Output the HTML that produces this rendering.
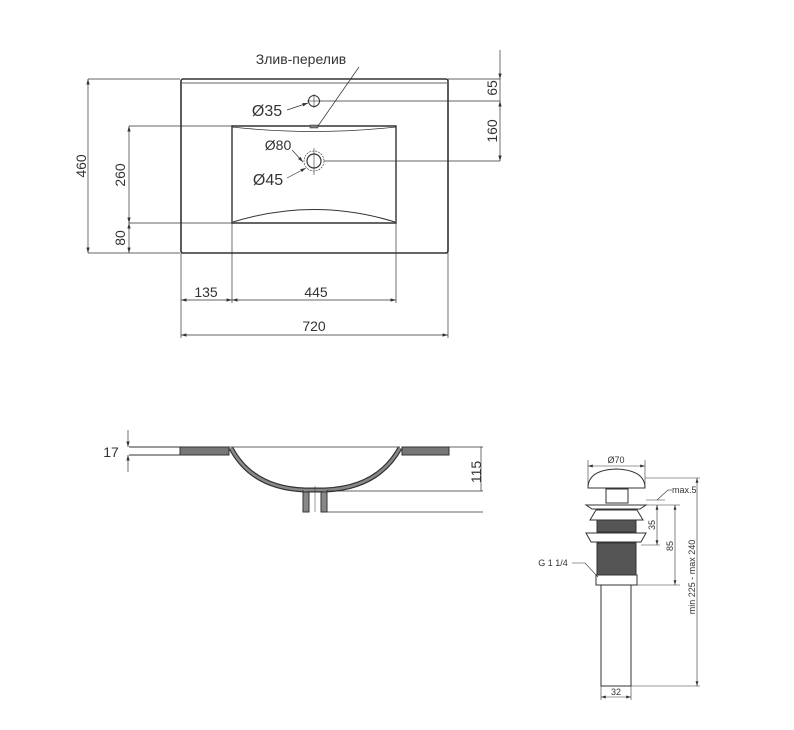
<!DOCTYPE html>
<html><head><meta charset="utf-8"><style>
html,body{margin:0;padding:0;background:#fff}
svg{display:block}
text{font-family:"Liberation Sans","DejaVu Sans",sans-serif;fill:#333}
</style></head><body>
<svg width="794" height="730" viewBox="0 0 794 730" xmlns="http://www.w3.org/2000/svg">
<defs>
<marker id="a" viewBox="0 0 10 6" refX="10" refY="3" markerWidth="8" markerHeight="5" orient="auto-start-reverse"><path d="M0,0L10,3L0,6z" fill="#333"/></marker>
</defs>
<g stroke="#333" fill="none">
<!-- top view -->
<rect x="181" y="79" width="267" height="174" rx="2" stroke-width="1.6"/>
<line x1="182" y1="83" x2="447" y2="83" stroke-width="0.7"/>
<path d="M232,126 L396,126 L396,223 L232,223 Z" stroke-width="1.4"/>
<path d="M232,127 Q314,136 396,127" stroke-width="0.8"/>
<path d="M233,222 Q314,197 395,222" stroke-width="1"/>
<circle cx="314" cy="101" r="5.5" stroke-width="1"/>
<line x1="314" y1="94" x2="314" y2="108" stroke-width="0.6"/>
<line x1="307" y1="101" x2="321" y2="101" stroke-width="0.6"/>
<circle cx="314" cy="161" r="7" stroke-width="1.2"/>
<circle cx="314" cy="161" r="10" stroke-width="0.6" stroke-dasharray="2,1"/>
<line x1="314" y1="148" x2="314" y2="175" stroke-width="0.6"/>
<rect x="310" y="125" width="8" height="3" fill="#777" stroke-width="0.5"/>
<g stroke-width="0.7">
<line x1="88" y1="79" x2="180" y2="79"/><line x1="88" y1="253" x2="180" y2="253"/>
<line x1="129" y1="126" x2="232" y2="126"/><line x1="129" y1="223" x2="232" y2="223"/>
<line x1="448" y1="79" x2="500" y2="79"/><line x1="319" y1="101" x2="500" y2="101"/><line x1="324" y1="161" x2="500" y2="161"/>
<line x1="181" y1="253" x2="181" y2="338"/><line x1="448" y1="253" x2="448" y2="338"/>
<line x1="232" y1="223" x2="232" y2="303"/><line x1="396" y1="223" x2="396" y2="303"/>
<line x1="359" y1="67" x2="318" y2="126"/>
<line x1="88" y1="79" x2="88" y2="253" marker-start="url(#a)" marker-end="url(#a)"/>
<line x1="129" y1="126" x2="129" y2="223" marker-start="url(#a)" marker-end="url(#a)"/>
<line x1="129" y1="223" x2="129" y2="253" marker-start="url(#a)" marker-end="url(#a)"/>
<line x1="500" y1="50" x2="500" y2="79" marker-end="url(#a)"/>
<line x1="500" y1="101" x2="500" y2="161" marker-start="url(#a)" marker-end="url(#a)"/>
<line x1="500" y1="79" x2="500" y2="101"/>
<line x1="181" y1="300" x2="232" y2="300" marker-start="url(#a)" marker-end="url(#a)"/>
<line x1="232" y1="300" x2="396" y2="300" marker-start="url(#a)" marker-end="url(#a)"/>
<line x1="181" y1="335" x2="448" y2="335" marker-start="url(#a)" marker-end="url(#a)"/>
<line x1="287" y1="110" x2="308" y2="103" marker-end="url(#a)"/>
<line x1="292" y1="150" x2="303" y2="162" marker-end="url(#a)"/>
<line x1="287" y1="178" x2="306" y2="168" marker-end="url(#a)"/>
</g>
<!-- side view -->
<path d="M129,447 L180,447 L180,455 L129,455" stroke-width="1"/>
<rect x="180" y="447" width="49" height="8" fill="#777" stroke-width="1"/>
<rect x="402" y="447" width="47" height="8" fill="#777" stroke-width="1"/>
<path d="M231,448 Q252,488 305,490 L325,490 Q378,488 400,448" stroke-width="5" stroke="#333"/>
<path d="M231,448 Q252,488 305,490 L325,490 Q378,488 400,448" stroke-width="2.6" stroke="#888"/>
<path d="M303,490 L303,512 L309,512 L309,492 M321,492 L321,512 L327,512 L327,490" fill="#888" stroke-width="1"/>
<rect x="303" y="492" width="6" height="20" fill="#888" stroke-width="1"/>
<rect x="321" y="492" width="6" height="20" fill="#888" stroke-width="1"/>
<line x1="315" y1="486" x2="315" y2="512" stroke-width="0.5"/>
<g stroke-width="0.7">
<line x1="229" y1="447" x2="400" y2="447"/>
<line x1="449" y1="447" x2="483" y2="447"/><line x1="327" y1="491" x2="483" y2="491"/><line x1="327" y1="512" x2="483" y2="512"/>
<line x1="481" y1="447" x2="481" y2="491"/>
<line x1="128" y1="430" x2="128" y2="447" marker-end="url(#a)"/>
<line x1="128" y1="472" x2="128" y2="455" marker-end="url(#a)"/>
</g>
<!-- drain -->
<g stroke-width="1">
<path d="M588,488 Q588,470 616,469 Q645,470 645,488 Z"/>
<rect x="606" y="489" width="22" height="14"/>
<path d="M586,505 L646,505 L640,509 L592,509 Z"/>
<path d="M590,520 L596,510 L637,510 L643,520 Z"/>
<rect x="597" y="520" width="39" height="12" fill="#555"/>
<path d="M586,533 L646,533 L641,542 L591,542 Z"/>
<rect x="597" y="543" width="39" height="32" fill="#555"/>
<rect x="596" y="575" width="41" height="10"/>
<rect x="601" y="585" width="30" height="101"/>
</g>
<g stroke-width="0.6">
<line x1="588" y1="466" x2="645" y2="466" marker-start="url(#a)" marker-end="url(#a)"/>
<line x1="588" y1="460" x2="588" y2="486"/><line x1="645" y1="460" x2="645" y2="486"/>
<line x1="645" y1="478" x2="700" y2="478"/>
<line x1="646" y1="505" x2="680" y2="505"/><line x1="646" y1="500" x2="665" y2="500"/>
<line x1="641" y1="545" x2="660" y2="545"/><line x1="637" y1="585" x2="680" y2="585"/>
<line x1="631" y1="686" x2="700" y2="686"/>
<line x1="657" y1="505" x2="657" y2="545" marker-start="url(#a)" marker-end="url(#a)"/>
<line x1="657" y1="500" x2="668" y2="490"/><line x1="668" y1="490" x2="672" y2="490"/>
<line x1="675" y1="505" x2="675" y2="585" marker-start="url(#a)" marker-end="url(#a)"/>
<line x1="697" y1="478" x2="697" y2="686" marker-start="url(#a)" marker-end="url(#a)"/>
<line x1="601" y1="686" x2="601" y2="700"/><line x1="631" y1="686" x2="631" y2="700"/>
<line x1="601" y1="697" x2="631" y2="697" marker-start="url(#a)" marker-end="url(#a)"/>
<path d="M572,563 L585,563 L598,577"/>
</g>
</g>
<g>
<text x="301" y="64" font-size="14" text-anchor="middle">Злив-перелив</text>
<text x="267" y="116" font-size="16" text-anchor="middle">Ø35</text>
<text x="278" y="150" font-size="14" text-anchor="middle">Ø80</text>
<text x="268" y="185" font-size="16" text-anchor="middle">Ø45</text>
<text x="206" y="297" font-size="14" text-anchor="middle">135</text>
<text x="316" y="297" font-size="14" text-anchor="middle">445</text>
<text x="314" y="331" font-size="14" text-anchor="middle">720</text>
<text transform="translate(86,166) rotate(-90)" font-size="14" text-anchor="middle">460</text>
<text transform="translate(125,175) rotate(-90)" font-size="14" text-anchor="middle">260</text>
<text transform="translate(125,238) rotate(-90)" font-size="14" text-anchor="middle">80</text>
<text transform="translate(497,88) rotate(-90)" font-size="14" text-anchor="middle">65</text>
<text transform="translate(497,131) rotate(-90)" font-size="14" text-anchor="middle">160</text>
<text x="111" y="457" font-size="14" text-anchor="middle">17</text>
<text transform="translate(481,472) rotate(-90)" font-size="14" text-anchor="middle">115</text>
<text x="616" y="463" font-size="9" text-anchor="middle">Ø70</text>
<text x="672" y="493" font-size="9">max.5</text>
<text transform="translate(655,525) rotate(-90)" font-size="9" text-anchor="middle">35</text>
<text transform="translate(673,546) rotate(-90)" font-size="9" text-anchor="middle">85</text>
<text transform="translate(695,577) rotate(-90)" font-size="9" text-anchor="middle">min 225 - max 240</text>
<text x="553" y="566" font-size="9" text-anchor="middle">G 1 1/4</text>
<text x="616" y="695" font-size="9" text-anchor="middle">32</text>
</g>
</svg>
</body></html>
